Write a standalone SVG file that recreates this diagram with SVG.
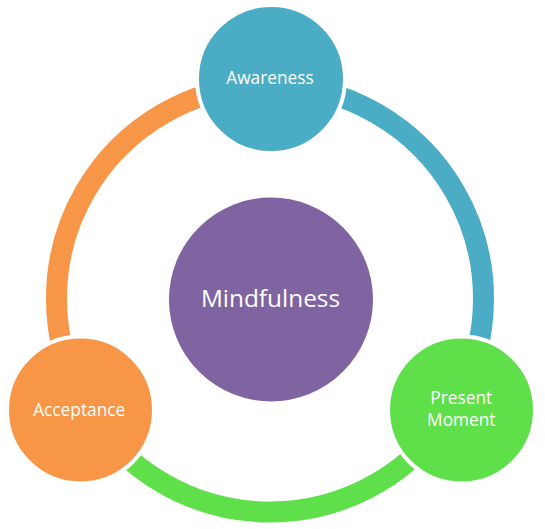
<svg xmlns="http://www.w3.org/2000/svg" width="545" height="529" viewBox="0 0 545 529">
<style>
.arc{fill:none;stroke-width:21}
.node{stroke:#fff;stroke-width:4}
.lbl{font-family:"Open Sans","DejaVu Sans",sans-serif;fill:#fff;text-anchor:middle;font-size:17.3px}
</style>
<rect width="545" height="529" fill="#fff"/>
<g id="connectors">
<path class="arc" stroke="#4BACC6" d="M270,85 A213.5,213.5 0 0 1 454.9,405.25"/>
<path class="arc" stroke="#5FE04A" d="M454.9,405.25 A213.5,213.5 0 0 1 85.1,405.25"/>
<path class="arc" stroke="#F79646" d="M85.1,405.25 A213.5,213.5 0 0 1 270,85"/>
</g>
<g id="mindfulness">
<circle class="node" cx="271" cy="299.5" r="104" fill="#8064A2"/>
<text class="lbl" x="270.5" y="306.5" style="font-size:24.4px">Mindfulness</text>
</g>
<g id="awareness">
<circle class="node" cx="271" cy="79" r="74" fill="#4BACC6"/>
<text class="lbl" x="270" y="84.3">Awareness</text>
</g>
<g id="present-moment">
<circle class="node" cx="461.5" cy="410" r="73.5" fill="#5FE04A"/>
<text class="lbl" x="461.3" y="404.3">Present</text>
<text class="lbl" x="461.3" y="425.7">Moment</text>
</g>
<g id="acceptance">
<circle class="node" cx="80.5" cy="410" r="73.5" fill="#F79646"/>
<text class="lbl" x="79.2" y="415.7">Acceptance</text>
</g>
</svg>
